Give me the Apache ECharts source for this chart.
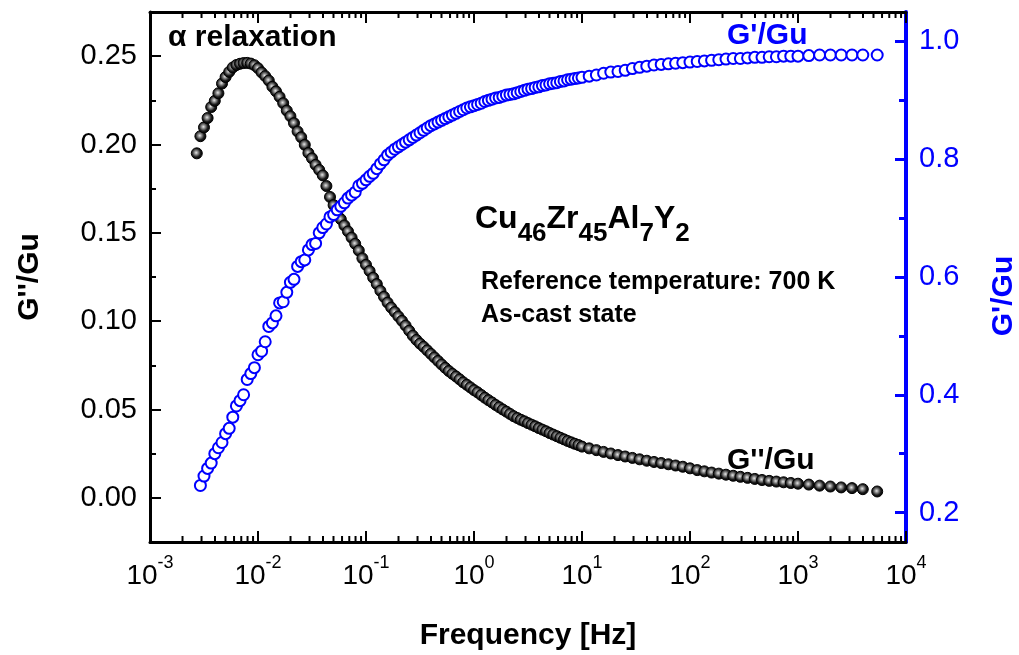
<!DOCTYPE html>
<html><head><meta charset="utf-8">
<script src="https://cdn.jsdelivr.net/npm/echarts@6/dist/echarts.min.js"></script>
<style>html,body{margin:0;padding:0;background:#fff}#c{width:1019px;height:655px}</style>
</head><body><div id="c"></div>
<script>
// Frequency [Hz]
const freq = [
  2.712e-3, 2.929e-3, 3.162e-3, 3.415e-3, 3.687e-3, 3.981e-3, 4.299e-3, 4.642e-3, 5.012e-3, 5.412e-3,
  5.843e-3, 6.310e-3, 6.813e-3, 7.356e-3, 7.943e-3, 8.577e-3, 9.261e-3,
  0.01000, 0.01080, 0.01166, 0.01259, 0.01359, 0.01468, 0.01585, 0.01711, 0.01848, 0.01995,
  0.02154, 0.02326, 0.02512, 0.02712, 0.02929, 0.03162, 0.03415, 0.03687, 0.03981, 0.04299,
  0.04642, 0.05012, 0.05412, 0.05843, 0.06310, 0.06813, 0.07356, 0.07943, 0.08577, 0.09261,
  0.1000, 0.1080, 0.1166, 0.1259, 0.1359, 0.1468, 0.1585, 0.1711, 0.1848, 0.1995,
  0.2154, 0.2326, 0.2512, 0.2712, 0.2929, 0.3162, 0.3415, 0.3687, 0.3981, 0.4299,
  0.4642, 0.5012, 0.5412, 0.5843, 0.6310, 0.6813, 0.7356, 0.7943, 0.8577, 0.9261,
  1.000, 1.080, 1.166, 1.259, 1.359, 1.468, 1.585, 1.711, 1.848, 1.995,
  2.154, 2.326, 2.512, 2.712, 2.929, 3.162, 3.415, 3.687, 3.981, 4.299,
  4.642, 5.012, 5.412, 5.843, 6.310, 6.813, 7.356, 7.943, 8.577, 9.261,
  10.00, 11.66, 13.59, 15.85, 18.48, 21.54, 25.12, 29.29, 34.15, 39.81, 46.42, 54.12, 63.10, 73.56, 85.77,
  100.0, 116.6, 135.9, 158.5, 184.8, 215.4, 251.2, 292.9, 341.5, 398.1, 464.2, 541.2, 631.0, 735.6, 857.7,
  1000, 1259, 1585, 1995, 2512, 3162, 3981, 5412
];
// G''/Gu (loss modulus, left axis)
const gLoss = [
  0.1950, 0.2047, 0.2097, 0.2150, 0.2212, 0.2247, 0.2290, 0.2345, 0.2382, 0.2411,
  0.2436, 0.2450, 0.2457, 0.2461, 0.2462, 0.2458, 0.2449,
  0.2432, 0.2408, 0.2387, 0.2362, 0.2327, 0.2301, 0.2270, 0.2234, 0.2192, 0.2160,
  0.2121, 0.2074, 0.2041, 0.1998, 0.1952, 0.1922, 0.1885, 0.1856, 0.1825, 0.1765,
  0.1703, 0.1657, 0.1611, 0.1577, 0.1542, 0.1508, 0.1473, 0.1438, 0.1400, 0.1356,
  0.1319, 0.1284, 0.1246, 0.1210, 0.1172, 0.1138, 0.1105, 0.1077, 0.1052, 0.1027,
  0.1002, 0.0975, 0.0946, 0.0918, 0.0894, 0.0873, 0.0855, 0.0835, 0.0815, 0.0795,
  0.0775, 0.0755, 0.0736, 0.0718, 0.0702, 0.0687, 0.0671, 0.0654, 0.0640, 0.0625,
  0.0610, 0.0597, 0.0582, 0.0567, 0.0553, 0.0540, 0.0526, 0.0513, 0.0500, 0.0488,
  0.0475, 0.0462, 0.0452, 0.0442, 0.0433, 0.0423, 0.0414, 0.0405, 0.0395, 0.0386,
  0.0377, 0.0367, 0.0358, 0.0349, 0.0340, 0.0331, 0.0322, 0.0314, 0.0306, 0.0299,
  0.0290, 0.0280, 0.0270, 0.0260, 0.0251, 0.0242, 0.0234, 0.0226, 0.0218, 0.0210, 0.0203, 0.0197, 0.0190, 0.0183, 0.0176,
  0.0167, 0.0157, 0.0150, 0.0143, 0.0137, 0.0131, 0.0125, 0.0119, 0.0113, 0.0107, 0.0101, 0.0096, 0.0092, 0.0088, 0.0084,
  0.0080, 0.0075, 0.0069, 0.0064, 0.0059, 0.0055, 0.0049, 0.0036
];
// G'/Gu (storage modulus, right axis)
const gStor = [
  null, 0.246, 0.262, 0.275, 0.284, 0.300, 0.310, 0.319, 0.334, 0.343,
  0.362, 0.381, 0.390, 0.400, 0.426, 0.436, 0.446,
  0.468, 0.474, 0.490, 0.516, 0.522, 0.534, 0.556, 0.558, 0.574, 0.591,
  0.596, 0.618, 0.626, 0.629, 0.646, 0.655, 0.657, 0.675, 0.684, 0.690,
  0.702, 0.706, 0.714, 0.720, 0.726, 0.734, 0.739, 0.744, 0.755, 0.759,
  0.765, 0.771, 0.776, 0.784, 0.792, 0.799, 0.807, 0.812, 0.817, 0.821,
  0.825, 0.829, 0.833, 0.837, 0.841, 0.845, 0.849, 0.853, 0.857, 0.860,
  0.863, 0.866, 0.869, 0.872, 0.875, 0.878, 0.881, 0.884, 0.887, 0.889,
  0.891, 0.893, 0.895, 0.898, 0.900, 0.902, 0.904, 0.905, 0.907, 0.909,
  0.910, 0.911, 0.913, 0.915, 0.917, 0.919, 0.920, 0.922, 0.923, 0.925,
  0.926, 0.928, 0.929, 0.930, 0.932, 0.933, 0.935, 0.936, 0.937, 0.938,
  0.939, 0.941, 0.943, 0.946, 0.948, 0.949, 0.951, 0.954, 0.956, 0.958, 0.960, 0.961, 0.962, 0.963, 0.964,
  0.965, 0.966, 0.967, 0.968, 0.969, 0.970, 0.971, 0.971, 0.972, 0.973, 0.973, 0.974, 0.974, 0.975, 0.975,
  0.975, 0.976, 0.977, 0.977, 0.977, 0.977, 0.977, 0.977
];
// Tick values
const xMinorTicks = [
  0.002, 0.003, 0.004, 0.005, 0.006, 0.007, 0.008, 0.009,
  0.02, 0.03, 0.04, 0.05, 0.06, 0.07, 0.08, 0.09,
  0.2, 0.3, 0.4, 0.5, 0.6, 0.7, 0.8, 0.9,
  2, 3, 4, 5, 6, 7, 8, 9,
  20, 30, 40, 50, 60, 70, 80, 90,
  200, 300, 400, 500, 600, 700, 800, 900,
  2000, 3000, 4000, 5000, 6000, 7000, 8000, 9000
];
const yLeftTicks = [0, 0.05, 0.10, 0.15, 0.20, 0.25];
const yLeftMinor = [0.025, 0.075, 0.125, 0.175, 0.225];
const yRightTicks = [0.2, 0.4, 0.6, 0.8, 1.0];
const yRightMinor = [0.3, 0.5, 0.7, 0.9];

const FONT = "'Liberation Sans', Arial, sans-serif";
const BLUE = '#0000ff';

const lossData = freq.map((f, i) => [f, gLoss[i]]);
const storData = [];
freq.forEach((f, i) => { if (gStor[i] !== null) storData.push([f, gStor[i]]); });

const chart = echarts.init(document.getElementById('c'), null, {renderer: 'canvas'});

const xBase = {type: 'log', logBase: 10, min: 1e-3, max: 1e4, gridIndex: 0, splitLine: {show: false}};
const supLabel = {
  fontFamily: FONT, color: '#000', margin: 12,
  formatter: v => '{b|10}{s|' + Math.round(Math.log10(v)) + '}',
  rich: {
    b: {fontFamily: FONT, fontSize: 28, color: '#000', verticalAlign: 'top', lineHeight: 30, padding: [8, 0, 0, 0]},
    s: {fontFamily: FONT, fontSize: 18, color: '#000', verticalAlign: 'top', lineHeight: 20}
  }
};

// minor x ticks drawn through the log x-axis scale (bottom and top of the frame)
function minorTickItem(params, api) {
  const f = api.value(0);
  const p = api.coord([f, 0.1]);
  const cs = params.coordSys;
  const x = p[0];
  const bottom = cs.y + cs.height, top = cs.y;
  return {
    type: 'group',
    children: [
      {type: 'line', shape: {x1: x, y1: bottom, x2: x, y2: bottom - 6}, style: {stroke: '#000', lineWidth: 2}},
      {type: 'line', shape: {x1: x, y1: top, x2: x, y2: top + 6}, style: {stroke: '#000', lineWidth: 2}}
    ]
  };
}

chart.setOption({
  animation: false,
  backgroundColor: '#fff',
  grid: {left: 150, right: 113, top: 12, bottom: 113, containLabel: false, outerBoundsMode: 'none'},
  xAxis: [
    Object.assign({}, xBase, {
      position: 'bottom',
      name: 'Frequency [Hz]', nameLocation: 'middle', nameGap: 79,
      nameTextStyle: {fontFamily: FONT, fontSize: 30, fontWeight: 'bold', color: '#000'},
      axisLine: {show: true, onZero: false, lineStyle: {color: '#000', width: 3}},
      axisTick: {show: true, inside: true, length: 11, lineStyle: {width: 2, color: '#000'}},
      axisLabel: supLabel
    }),
    Object.assign({}, xBase, {
      position: 'top',
      axisLine: {show: true, onZero: false, lineStyle: {color: '#000', width: 3}},
      axisTick: {show: true, inside: true, length: 11, lineStyle: {width: 2, color: '#000'}},
      axisLabel: {show: false}
    })
  ],
  yAxis: [
    {
      type: 'value', position: 'left', min: -0.025, max: 0.275, splitLine: {show: false},
      name: "G''/Gu", nameLocation: 'middle', nameGap: 105, nameRotate: 90,
      nameTextStyle: {fontFamily: FONT, fontSize: 30, fontWeight: 'bold', color: '#000'},
      axisLine: {show: true, onZero: false, lineStyle: {color: '#000', width: 3}},
      axisTick: {show: true, inside: true, length: 11, lineStyle: {width: 2, color: '#000'}, customValues: yLeftTicks},
      axisLabel: {customValues: yLeftTicks, fontFamily: FONT, fontSize: 29, color: '#000', margin: 13, formatter: v => v.toFixed(2)}
    },
    {
      type: 'value', position: 'right', min: 0.15, max: 1.05, splitLine: {show: false},
      name: "G'/Gu", nameLocation: 'middle', nameGap: 83, nameRotate: 90,
      nameTextStyle: {fontFamily: FONT, fontSize: 30, fontWeight: 'bold', color: BLUE, padding: [0, 38, 0, 0]},
      axisLine: {show: true, onZero: false, lineStyle: {color: BLUE, width: 4}},
      axisTick: {show: true, inside: true, length: 11, lineStyle: {width: 3, color: BLUE}, customValues: yRightTicks},
      axisLabel: {customValues: yRightTicks, fontFamily: FONT, fontSize: 29, color: BLUE, margin: 13, formatter: v => v.toFixed(1)}
    },
    {
      type: 'value', position: 'left', min: -0.025, max: 0.275, splitLine: {show: false},
      axisLine: {show: false, onZero: false},
      axisTick: {show: true, inside: true, length: 6, lineStyle: {width: 2, color: '#000'}, customValues: yLeftMinor},
      axisLabel: {show: false}
    },
    {
      type: 'value', position: 'right', min: 0.15, max: 1.05, splitLine: {show: false},
      axisLine: {show: false, onZero: false},
      axisTick: {show: true, inside: true, length: 7, lineStyle: {width: 3, color: BLUE}, customValues: yRightMinor},
      axisLabel: {show: false}
    }
  ],
  series: [
    {
      type: 'custom', xAxisIndex: 0, yAxisIndex: 0, silent: true, z: 1,
      data: xMinorTicks.map(v => [v]), renderItem: minorTickItem, clip: false
    },
    {
      name: "G''/Gu", type: 'scatter', xAxisIndex: 0, yAxisIndex: 0, data: lossData,
      symbol: 'circle', symbolSize: 11,
      itemStyle: {
        color: {type: 'radial', x: 0.45, y: 0.45, r: 0.55, colorStops: [
          {offset: 0, color: '#e6e6e6'}, {offset: 0.3, color: '#888888'}, {offset: 0.65, color: '#1c1c1c'}, {offset: 1, color: '#000'}]},
        borderColor: '#000', borderWidth: 1, opacity: 1
      },
      z: 2
    },
    {
      name: "G'/Gu", type: 'scatter', xAxisIndex: 0, yAxisIndex: 1, data: storData,
      symbol: 'emptyCircle', symbolSize: 11,
      itemStyle: {color: BLUE, borderColor: BLUE, borderWidth: 1, opacity: 1},
      z: 3
    }
  ],
  graphic: [
    {type: 'text', x: 168, y: 38, z: 10, style: {text: 'α relaxation', fontFamily: FONT, fontSize: 30, fontWeight: 'bold', fill: '#000', verticalAlign: 'middle'}},
    {type: 'text', x: 727, y: 36, z: 10, style: {text: "G'/Gu", fontFamily: FONT, fontSize: 30, fontWeight: 'bold', fill: BLUE, verticalAlign: 'middle'}},
    {type: 'text', x: 727, y: 461, z: 10, style: {text: "G''/Gu", fontFamily: FONT, fontSize: 30, fontWeight: 'bold', fill: '#000', verticalAlign: 'middle'}},
    {type: 'text', x: 475, y: 203, z: 10, style: {
      text: '{m|Cu}{s|46}{m|Zr}{s|45}{m|Al}{s|7}{m|Y}{s|2}', fontFamily: FONT, fill: '#000',
      rich: {
        m: {fontFamily: FONT, fontSize: 32, fontWeight: 'bold', fill: '#000', verticalAlign: 'top', lineHeight: 34},
        s: {fontFamily: FONT, fontSize: 26, fontWeight: 'bold', fill: '#000', verticalAlign: 'top', lineHeight: 26, padding: [18, 0, 0, 0]}
      }}},
    {type: 'text', x: 481, y: 282, z: 10, style: {text: 'Reference temperature: 700 K', fontFamily: FONT, fontSize: 25, fontWeight: 'bold', fill: '#000', verticalAlign: 'middle'}},
    {type: 'text', x: 481, y: 315, z: 10, style: {text: 'As-cast state', fontFamily: FONT, fontSize: 25, fontWeight: 'bold', fill: '#000', verticalAlign: 'middle'}}
  ]
});
</script>
</body></html>
